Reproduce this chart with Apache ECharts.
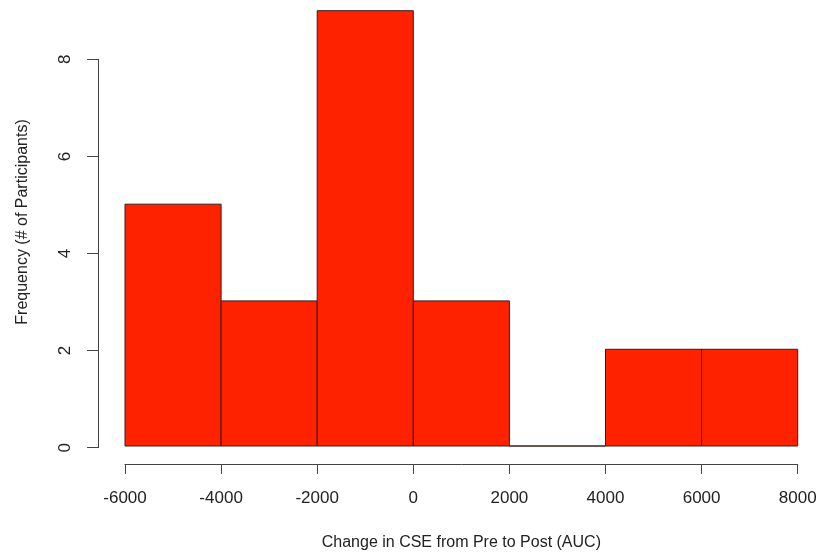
<!DOCTYPE html>
<html>
<head>
<meta charset="utf-8">
<script src="https://cdn.jsdelivr.net/npm/echarts@6/dist/echarts.min.js"></script>
<style>html,body{margin:0;padding:0;background:#fff}#c{width:821px;height:556px}</style>
</head>
<body>
<div id="c"></div>
<script>
const binStarts = [-6000, -4000, -2000, 0, 2000, 4000, 6000];
const binEnds   = [-4000, -2000, 0, 2000, 4000, 6000, 8000];
const counts    = [5, 3, 9, 3, 0, 2, 2];
const xTicks = [-6000, -4000, -2000, 0, 2000, 4000, 6000, 8000];
const yTicks = [0, 2, 4, 6, 8];
const xTitle = 'Change in CSE from Pre to Post (AUC)';
const yTitle = 'Frequency (# of Participants)';

const font = 'Liberation Sans, Arial, Helvetica, sans-serif';
const axisCol = '#444';
const data = binStarts.map((s, i) => [s, binEnds[i], counts[i]]);

const chart = echarts.init(document.getElementById('c'), null, {renderer: 'canvas'});
chart.setOption({
  animation: false,
  backgroundColor: '#fff',
  grid: [
    {left: 125, right: 23.3, top: 10.7, bottom: 108.3},
    {left: 125, right: 23.3, top: 59.3, bottom: 108.3}
  ],
  xAxis: [
    {
      gridIndex: 0, type: 'value',
      min: xTicks[0], max: xTicks[xTicks.length - 1], interval: 2000,
      offset: 18,
      axisLine: {show: true, onZero: false, lineStyle: {color: axisCol, width: 1}},
      axisTick: {show: true, length: 10, lineStyle: {color: axisCol}},
      axisLabel: {color: '#222', fontSize: 17, fontFamily: font, margin: 26,
                  formatter: v => String(v)},
      splitLine: {show: false},
      name: xTitle, nameLocation: 'middle', nameGap: 71,
      nameTextStyle: {color: '#222', fontSize: 16, fontFamily: font}
    },
    {
      gridIndex: 1, type: 'value', min: -6000, max: 8000, show: false
    }
  ],
  yAxis: [
    {gridIndex: 0, type: 'value', min: 0, max: 9, show: false},
    {
      gridIndex: 1, type: 'value',
      min: yTicks[0], max: yTicks[yTicks.length - 1], interval: 2,
      offset: 27,
      axisLine: {show: true, onZero: false, lineStyle: {color: axisCol, width: 1}},
      axisTick: {show: true, length: 11, lineStyle: {color: axisCol}},
      axisLabel: {color: '#222', fontSize: 17, fontFamily: font, rotate: 90, margin: 24},
      splitLine: {show: false}
    }
  ],
  graphic: [{
    type: 'text',
    x: 23, y: 222,
    rotation: Math.PI / 2,
    style: {text: yTitle, fill: '#222', font: '16px ' + font,
            textAlign: 'center', textVerticalAlign: 'middle'}
  }],
  series: [{
    type: 'custom',
    xAxisIndex: 0, yAxisIndex: 0,
    data: data,
    encode: {x: [0, 1], y: 2},
    renderItem: function (params, api) {
      const p0 = api.coord([api.value(0), 0]);
      const p1 = api.coord([api.value(1), api.value(2)]);
      return {
        type: 'rect',
        shape: {x: p0[0], y: p1[1], width: p1[0] - p0[0], height: p0[1] - p1[1]},
        style: {fill: '#ff2200', stroke: '#3a1c1c', lineWidth: 1}
      };
    }
  }]
});
</script>
</body>
</html>
